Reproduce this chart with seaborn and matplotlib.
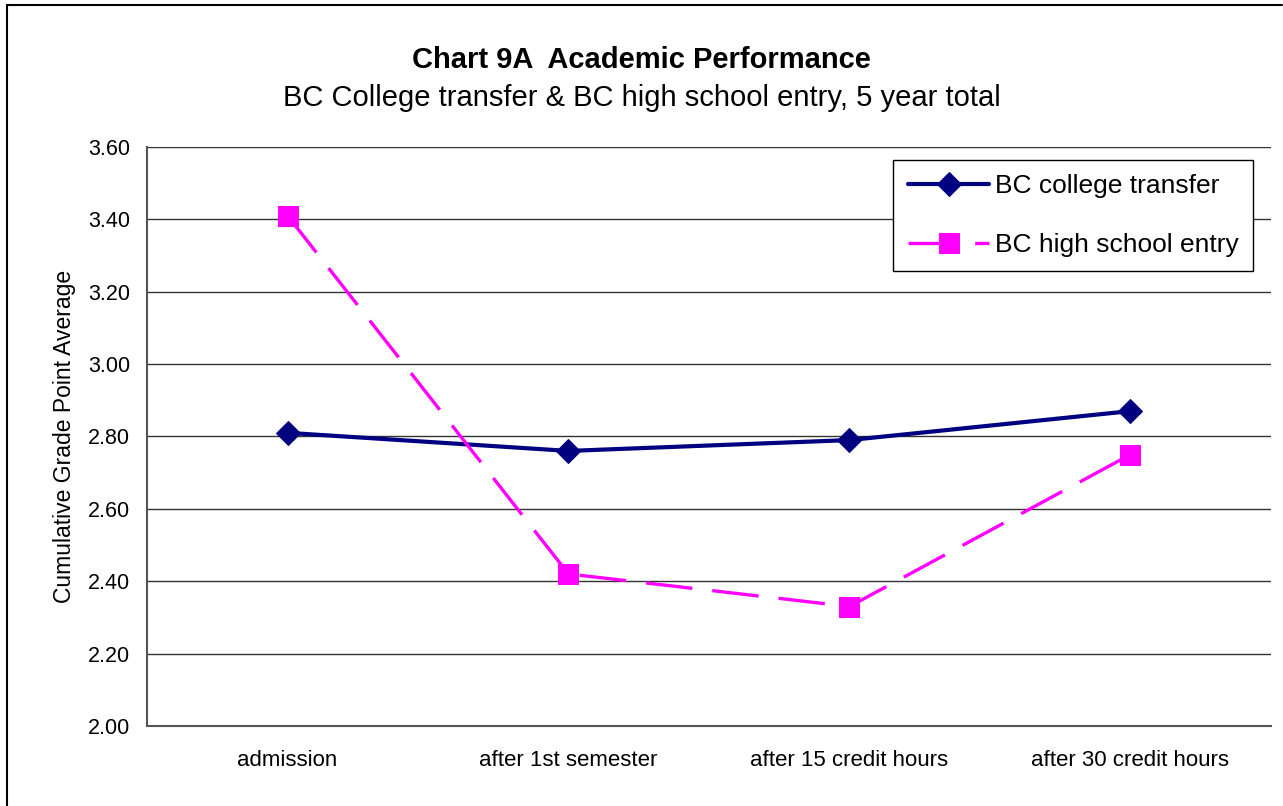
import matplotlib
matplotlib.use("Agg")
import matplotlib.pyplot as plt
import seaborn as sns
import pandas as pd
from matplotlib.lines import Line2D

# data
stages = ["admission", "after 1st semester", "after 15 credit hours", "after 30 credit hours"]
college_transfer = [2.81, 2.76, 2.79, 2.87]
high_school_entry = [3.41, 2.42, 2.33, 2.75]

sns.set_style("white")
plt.rcParams['font.family'] = ['Liberation Sans', 'DejaVu Sans']
plt.rcParams['text.color'] = 'black'
plt.rcParams['axes.labelcolor'] = 'black'
plt.rcParams['xtick.color'] = 'black'
plt.rcParams['ytick.color'] = 'black'

df = pd.DataFrame({"stage": stages,
                   "BC college transfer": college_transfer,
                   "BC high school entry": high_school_entry})

fig = plt.figure(figsize=(12.83, 8.06), dpi=100)
ax = fig.add_axes([0.1146, 0.0993, 0.876, 0.7184])

sns.lineplot(data=df, x="stage", y="BC college transfer", ax=ax, sort=False,
             color="#000080", linewidth=3.0, marker="D", markersize=12,
             markeredgecolor="#000080", label="BC college transfer")
sns.lineplot(data=df, x="stage", y="BC high school entry", ax=ax, sort=False,
             color="#FF00FF", linewidth=2.4, linestyle=(0, (14, 6)), marker="s",
             markersize=14, markeredgecolor="#FF00FF", label="BC high school entry")

ax.set_xlim(-0.5, 3.5)
ax.set_ylim(2.0, 3.6)
ax.set_yticks([2.0 + 0.2 * i for i in range(9)])
ax.set_yticklabels([f"{2.0 + 0.2 * i:.2f}" for i in range(9)])
ax.set_xticks(range(4))
ax.set_xticklabels(stages)
ax.set_xticks([-0.5, 0.5, 1.5, 2.5, 3.5], minor=True)
ax.tick_params(axis="x", which="major", length=0, pad=17, labelsize=16)
ax.tick_params(axis="x", which="minor", length=6, width=1.2, color="#555555", direction="out")
ax.tick_params(axis="y", length=6, width=1.2, color="#555555", direction="out", pad=6,
               labelsize=15.5, labelcolor="black")

ax.yaxis.grid(True, color="#333333", linewidth=1.0)
ax.set_axisbelow(True)
for side in ["top", "right"]:
    ax.spines[side].set_visible(False)
for side in ["left", "bottom"]:
    ax.spines[side].set_color("#555555")
    ax.spines[side].set_linewidth(1.5)

ax.set_xlabel("")
ax.set_ylabel("Cumulative Grade Point Average", fontsize=16.5, labelpad=9)

leg = ax.legend(loc="upper right", bbox_to_anchor=(0.984, 0.9775), borderaxespad=0,
                fontsize=19, handlelength=3.1, labelspacing=1.3, fancybox=False,
                framealpha=1, edgecolor="black", borderpad=0.55, handletextpad=0.2)
leg.get_frame().set_linewidth(1.0)

fig.text(0.5, 0.926, "Chart 9A  Academic Performance", ha="center", va="center",
         fontsize=21, fontweight="bold")
fig.text(0.5, 0.879, "BC College transfer & BC high school entry, 5 year total",
         ha="center", va="center", fontsize=21)

# outer chart frame (left and top edges visible)
fig.add_artist(Line2D([7 / 1283, 7 / 1283], [0, 1 - 5 / 806], transform=fig.transFigure,
                      color="black", linewidth=1.5))
fig.add_artist(Line2D([7 / 1283, 1282 / 1283], [1 - 5 / 806, 1 - 5 / 806],
                      transform=fig.transFigure, color="black", linewidth=1.5))

fig.savefig("out.png", dpi=100)
